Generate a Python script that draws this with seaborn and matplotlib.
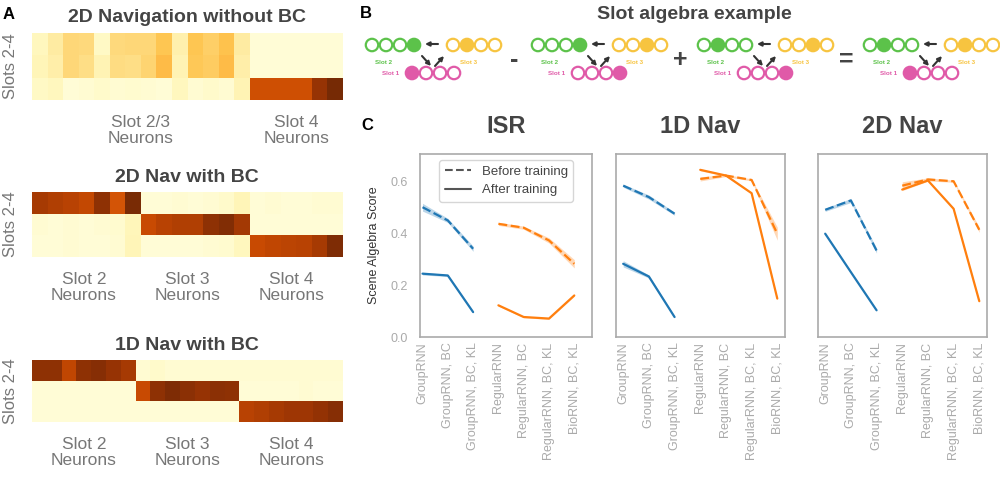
import numpy as np
import pandas as pd
import seaborn as sns
import matplotlib.pyplot as plt
from matplotlib.lines import Line2D

# Panel A: activity of slot neurons (rows = slots 2-4, columns = neurons)
nav2d_nobc = [
    [0.12, 0.20, 0.30, 0.29, 0.10, 0.29, 0.30, 0.30, 0.37, 0.17, 0.37, 0.33, 0.38, 0.20,
     0.05, 0.05, 0.05, 0.05, 0.05, 0.05],
    [0.14, 0.18, 0.30, 0.27, 0.15, 0.28, 0.27, 0.31, 0.40, 0.15, 0.36, 0.34, 0.40, 0.18,
     0.05, 0.05, 0.05, 0.05, 0.05, 0.05],
    [0.10, 0.12, 0.05, 0.06, 0.08, 0.06, 0.07, 0.06, 0.05, 0.12, 0.06, 0.08, 0.06, 0.15,
     0.74, 0.74, 0.74, 0.74, 0.88, 0.96],
]
nav2d_bc = [
    [0.84, 0.82, 0.80, 0.77, 0.90, 0.72, 0.95,
     0.05, 0.05, 0.06, 0.05, 0.06, 0.08, 0.14,
     0.05, 0.06, 0.05, 0.05, 0.06, 0.06],
    [0.06, 0.05, 0.06, 0.05, 0.06, 0.07, 0.13,
     0.76, 0.80, 0.82, 0.82, 0.90, 0.93, 0.85,
     0.05, 0.05, 0.05, 0.05, 0.05, 0.05],
    [0.05, 0.05, 0.06, 0.05, 0.05, 0.06, 0.14,
     0.05, 0.05, 0.05, 0.05, 0.06, 0.07, 0.12,
     0.76, 0.78, 0.79, 0.80, 0.84, 0.94],
]
nav1d_bc = [
    [0.90, 0.90, 0.78, 0.90, 0.92, 0.88, 0.84,
     0.06, 0.08, 0.06, 0.06, 0.06, 0.06, 0.06,
     0.06, 0.06, 0.06, 0.06, 0.06, 0.06, 0.06],
    [0.05, 0.05, 0.05, 0.05, 0.05, 0.05, 0.05,
     0.76, 0.90, 0.94, 0.91, 0.88, 0.91, 0.90,
     0.05, 0.05, 0.05, 0.05, 0.06, 0.05, 0.05],
    [0.05, 0.05, 0.05, 0.05, 0.05, 0.05, 0.05,
     0.05, 0.05, 0.05, 0.05, 0.05, 0.05, 0.05,
     0.80, 0.82, 0.84, 0.86, 0.86, 0.89, 0.92],
]

# Panel B: index of the active unit in each term of the equation
slot2_active = [3, 3, 1, 1]
slot3_active = [1, 2, 2, 1]
slot1_active = [0, 3, 3, 0]
operators = ["-", "+", "="]

# Panel C: scene algebra scores
models = ["GroupRNN", "GroupRNN, BC", "GroupRNN, BC, KL", "RegularRNN",
          "RegularRNN, BC", "RegularRNN, BC, KL", "BioRNN, BC, KL"]
model_family = ["GroupRNN"] * 3 + ["Other"] * 4

isr_before = [0.500, 0.449, 0.340, 0.436, 0.421, 0.372, 0.282]
isr_after = [0.244, 0.237, 0.096, 0.122, 0.077, 0.071, 0.160]
nav1d_before = [0.583, 0.539, 0.475, 0.609, 0.622, 0.605, 0.398]
nav1d_after = [0.282, 0.233, 0.077, 0.644, 0.622, 0.554, 0.148]
nav2d_before = [0.490, 0.526, 0.333, 0.583, 0.607, 0.600, 0.413]
nav2d_after = [0.398, 0.250, 0.103, 0.568, 0.603, 0.494, 0.138]

# half width of the shaded band
isr_before_err = [0.015, 0.008, 0.010, 0.006, 0.006, 0.010, 0.016]
isr_after_err = [0.005, 0.004, 0.004, 0.003, 0.003, 0.003, 0.003]
nav1d_before_err = [0.006, 0.008, 0.006, 0.008, 0.004, 0.004, 0.025]
nav1d_after_err = [0.012, 0.006, 0.004, 0.004, 0.003, 0.003, 0.004]
nav2d_before_err = [0.006, 0.008, 0.010, 0.015, 0.006, 0.004, 0.010]
nav2d_after_err = [0.003, 0.003, 0.003, 0.004, 0.003, 0.003, 0.003]

sns.set_theme(style="white")
plt.rcParams["font.family"] = ["Liberation Sans", "DejaVu Sans"]

fig = plt.figure(figsize=(10, 4.78), dpi=100)


def box(x, y, w, h):
    # pixel box (from top-left) -> figure fraction
    return [x / 1000, 1 - (y + h) / 478, w / 1000, h / 478]


ov = fig.add_axes([0, 0, 1, 1])
ov.set_xlim(0, 1000)
ov.set_ylim(478, 0)
ov.axis("off")

for letter, x, y in [("A", 9, 14), ("B", 366, 13), ("C", 367, 125)]:
    ov.text(x, y, letter, fontsize=12, fontweight="bold", ha="center", va="center", color="black")

# ---- Panel A ----
heatmaps = [
    (nav2d_nobc, "2D Navigation without BC", 33, 67, 17, [7, 17],
     ["Slot 2/3\nNeurons", "Slot 4\nNeurons"]),
    (nav2d_bc, "2D Nav with BC", 192, 65, 177, [20 / 6, 10, 50 / 3],
     ["Slot 2\nNeurons", "Slot 3\nNeurons", "Slot 4\nNeurons"]),
    (nav1d_bc, "1D Nav with BC", 360, 62, 345, [3.5, 10.5, 17.5],
     ["Slot 2\nNeurons", "Slot 3\nNeurons", "Slot 4\nNeurons"]),
]
for data, title, top, height, ty, ticks, labels in heatmaps:
    ax = fig.add_axes(box(32, top, 311, height))
    sns.heatmap(np.array(data), ax=ax, cmap="YlOrBr", vmin=0, vmax=1, cbar=False,
                xticklabels=False, yticklabels=False)
    ax.set_xticks(ticks)
    ax.set_xticklabels(labels, fontsize=12.5, color="#777", linespacing=1.1)
    ax.tick_params(axis="x", length=0, pad=11)
    ov.text(187, ty, title, fontsize=14, fontweight="bold", color="#444", ha="center", va="center")
    ov.text(11, top + height / 2, "Slots 2-4", rotation=90, fontsize=12, color="#777",
            ha="center", va="center")

# ---- Panel B ----
ov.text(694, 14, "Slot algebra example", fontsize=14, fontweight="bold", color="#444",
        ha="center", va="center")
green, yellow, pink = "#5cc24a", "#f7c440", "#e05aa8"
starts = [372, 538, 704, 870]
for k, g in enumerate(starts):
    for color, x0, y, active in [(green, g, 45, slot2_active[k]),
                                 (yellow, g + 81, 45, slot3_active[k]),
                                 (pink, g + 40, 73, slot1_active[k])]:
        xs = x0 + 14 * np.arange(4)
        faces = [color if i == active else "white" for i in range(4)]
        ov.scatter(xs, [y] * 4, s=80, facecolors=faces, edgecolors=color, linewidths=1.6)
    ov.text(g + 12, 62, "Slot 2", color=green, fontsize=4.5, fontweight="bold", ha="center", va="center")
    ov.text(g + 97, 62, "Slot 3", color=yellow, fontsize=4.5, fontweight="bold", ha="center", va="center")
    ov.text(g + 19, 73, "Slot 1", color=pink, fontsize=4.5, fontweight="bold", ha="center", va="center")
    arrow = dict(arrowstyle="-|>", color="#333", lw=1.5, mutation_scale=6, shrinkA=0, shrinkB=0)
    ov.annotate("", xy=(g + 53, 44), xytext=(g + 66, 44), arrowprops=arrow)
    ov.annotate("", xy=(g + 59, 66), xytext=(g + 50, 56), arrowprops=arrow)
    ov.annotate("", xy=(g + 72, 56), xytext=(g + 63, 66), arrowprops=arrow)
    if k < 3:
        ov.text(g + 142, 60, operators[k], fontsize=18, fontweight="bold", color="#444",
                ha="center", va="center")

# ---- Panel C ----
palette = {"GroupRNN": "#1f77b4", "Other": "#ff7f0e"}
tasks = [
    ("ISR", isr_before, isr_after, isr_before_err, isr_after_err, 420, 172, (-0.1, 6.7)),
    ("1D Nav", nav1d_before, nav1d_after, nav1d_before_err, nav1d_after_err, 616, 169, (-0.28, 6.3)),
    ("2D Nav", nav2d_before, nav2d_after, nav2d_before_err, nav2d_after_err, 818, 169, (-0.28, 6.3)),
]
for i, (title, before, after, berr, aerr, left, width, xl) in enumerate(tasks):
    ax = fig.add_axes(box(left, 154, width, 183))
    df = pd.DataFrame({
        "x": list(range(7)) * 2,
        "family": model_family * 2,
        "phase": ["Before training"] * 7 + ["After training"] * 7,
        "score": before + after,
        "err": berr + aerr,
    })
    sns.lineplot(data=df, x="x", y="score", hue="family", style="phase", palette=palette,
                 dashes={"Before training": (4, 1.6), "After training": ""},
                 errorbar=None, legend=False, ax=ax, lw=1.6)
    for (fam, ph), grp in df.groupby(["family", "phase"]):
        ax.fill_between(grp["x"], grp["score"] - grp["err"], grp["score"] + grp["err"],
                        color=palette[fam], alpha=0.3, lw=0)
    ax.set_xlim(xl)
    ax.set_ylim(0, 0.705)
    ax.set_xticks(range(7))
    ax.set_xticklabels(models, rotation=90, fontsize=9, color="#aaa")
    ax.set_yticks([0, 0.2, 0.4, 0.6])
    ax.set_xlabel("")
    if i == 0:
        ax.set_yticklabels(["0.0", "0.2", "0.4", "0.6"], fontsize=9, color="#aaa")
        ax.set_ylabel("Scene Algebra Score", fontsize=9, color="#333", labelpad=7)
        handles = [Line2D([], [], color="#555", ls="--", lw=1.5),
                   Line2D([], [], color="#555", ls="-", lw=1.5)]
        leg = ax.legend(handles, ["Before training", "After training"], loc="upper right",
                        bbox_to_anchor=(0.89, 0.967), borderaxespad=0, fontsize=9.5,
                        frameon=True, edgecolor="#ccc", fancybox=True, handlelength=2.0)
        for t in leg.get_texts():
            t.set_color("#444")
    else:
        ax.set_yticklabels([])
        ax.set_ylabel("")
    ax.tick_params(axis="x", length=0, pad=4)
    ax.tick_params(axis="y", length=0, pad=9)
    for s in ax.spines.values():
        s.set_color("#aaa")
        s.set_linewidth(1.2)
    ov.text(left + width / 2, 126, title, fontsize=17, fontweight="bold", color="#444",
            ha="center", va="center")

fig.savefig("out.png", dpi=100)
